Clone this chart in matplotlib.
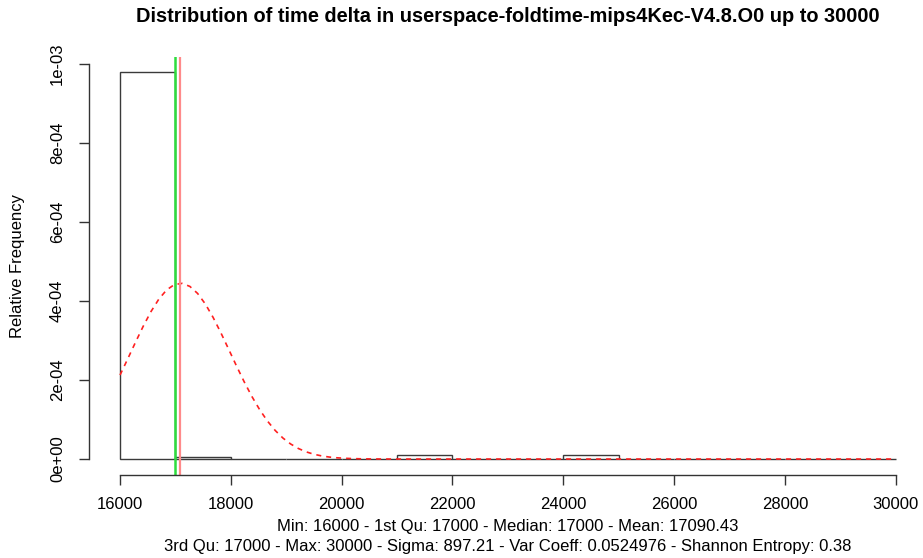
import numpy as np
from matplotlib import pyplot as plt

plt.rcParams['font.family'] = ['Liberation Sans', 'DejaVu Sans']

# histogram bins (width 1000) and relative frequency
bin_left = [16000, 17000, 18000, 19000, 20000, 21000, 22000, 23000,
            24000, 25000, 26000, 27000, 28000, 29000]
density = [0.000978, 0.0000040, 0.0000008, 0.0000004, 0.0, 0.0000100, 0.0000008, 0.0,
           0.0000090, 0.0000008, 0.0, 0.0, 0.0, 0.0000004]

mean_val = 17090.43
median_val = 17000
sigma = 897.21

x_ticks = [16000, 18000, 20000, 22000, 24000, 26000, 28000, 30000]
y_ticks = [0, 2e-4, 4e-4, 6e-4, 8e-4, 1e-3]
y_labels = ['0e+00', '2e-04', '4e-04', '6e-04', '8e-04', '1e-03']

title = 'Distribution of time delta in userspace-foldtime-mips4Kec-V4.8.O0 up to 30000'
sub1 = 'Min: 16000 - 1st Qu: 17000 - Median: 17000 - Mean: 17090.43'
sub2 = ('3rd Qu: 17000 - Max: 30000 - Sigma: 897.21 - Var Coeff: 0.0524976 '
        '- Shannon Entropy: 0.38')

W, H = 923, 558
fig = plt.figure(figsize=(W / 100, H / 100), dpi=100)

# plot region in pixels (R style, 4% extended ranges)
left_px, right_px, top_px, bot_px = 89, 926.7, 57, 474.5
ax = fig.add_axes([left_px / W, 1 - bot_px / H,
                   (right_px - left_px) / W, (bot_px - top_px) / H])

ax.bar(bin_left, density, width=1000, align='edge', fill=False,
       edgecolor='#3a3a3a', linewidth=1.0)

# fitted normal curve
xs = np.linspace(16000, 30000, 101)
ys = np.exp(-0.5 * ((xs - mean_val) / sigma) ** 2) / (sigma * np.sqrt(2 * np.pi))
ax.plot(xs, ys, color='#ff2020', linewidth=1.2, dashes=(3, 3))

ax.axvline(median_val, color='#2ddd3d', linewidth=1.8)
ax.axvline(mean_val, color='#ff8a8a', linewidth=1.6)

xr = 30000 - 16000
ax.set_xlim(16000 - 0.04 * xr, 30000 + 0.04 * xr)
ymax = max(density)
ax.set_ylim(-0.04 * ymax, ymax * 1.04)

for s in ['top', 'right']:
    ax.spines[s].set_visible(False)
ax.spines['left'].set_bounds(0, 1e-3)
ax.spines['bottom'].set_bounds(16000, 30000)
for s in ['left', 'bottom']:
    ax.spines[s].set_color('#333333')
    ax.spines[s].set_linewidth(1.0)

ax.set_xticks(x_ticks)
ax.set_xticklabels([str(v) for v in x_ticks])
ax.set_yticks(y_ticks)
ax.set_yticklabels(y_labels, rotation=90, va='center')
ax.tick_params(axis='both', length=7.2, width=1.0, color='#333333',
               labelsize=12)
ax.tick_params(axis='x', pad=9)
ax.tick_params(axis='y', pad=10)

fig.text(18 / W, 1 - 265.75 / H, 'Relative Frequency', rotation=90,
         ha='center', va='center', fontsize=12)
fig.text(507.8 / W, 1 - 17 / H, title, ha='center', va='center',
         fontsize=14.4, fontweight='bold')
fig.text(507.8 / W, 1 - 526 / H, sub1, ha='center', va='center', fontsize=12)
fig.text(507.8 / W, 1 - 546 / H, sub2, ha='center', va='center', fontsize=12)

fig.savefig('out.png', dpi=100)
